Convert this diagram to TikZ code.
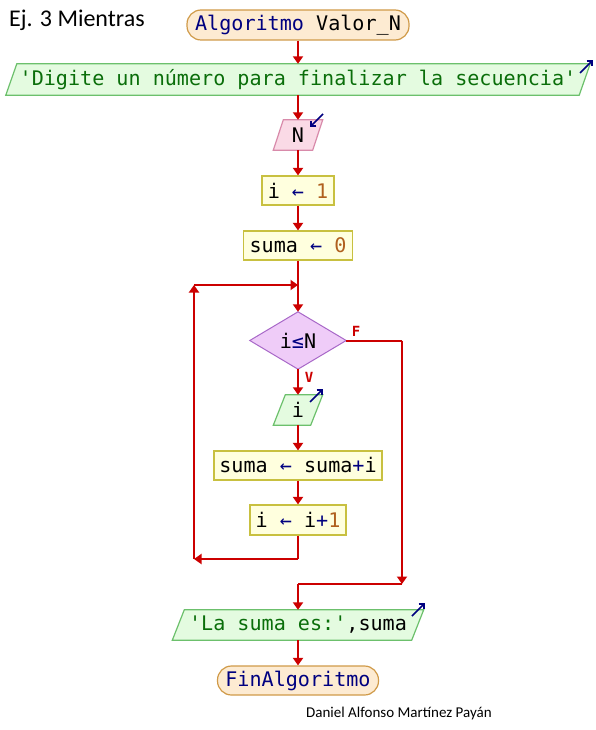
\documentclass[tikz,border=0pt]{standalone}
\usepackage{fontspec}
\setmainfont{Carlito}
\newfontfamily\monof{DejaVu Sans Mono}
\usetikzlibrary{arrows.meta,backgrounds}
\definecolor{redc}{HTML}{CC0000}
\definecolor{navyc}{HTML}{000080}
\definecolor{dgreen}{HTML}{0A6E0A}
\definecolor{brownc}{HTML}{B0601E}
\definecolor{termfill}{HTML}{FDEBD2}
\definecolor{termdraw}{HTML}{D09A48}
\definecolor{outfill}{HTML}{E4FBE0}
\definecolor{outdraw}{HTML}{6CC06C}
\definecolor{infill}{HTML}{FADAE6}
\definecolor{indraw}{HTML}{D88AAA}
\definecolor{procfill}{HTML}{FFFFDE}
\definecolor{procdraw}{HTML}{C8C040}
\definecolor{condfill}{HTML}{EFCCF8}
\definecolor{conddraw}{HTML}{A868C8}
\newcommand\qq{\textquotesingle}
\newcommand\drawpara[4]{%
  \begin{scope}[on background layer]
    \draw[fill=#3,draw=#4,line width=1.2pt] ([xshift=#2]#1.north west) -- (#1.north east)
      -- ([xshift=-#2]#1.south east) -- (#1.south west) -- cycle;
  \end{scope}}
\begin{document}
\begin{tikzpicture}[x=1pt,y=-1pt,
  shp/.style={rectangle, inner sep=0pt, font=\monof\fontsize{20.1}{21}\selectfont},
  term/.style={shp, fill=termfill, draw=termdraw, line width=1.2pt, rounded corners=14pt},
  proc/.style={shp, fill=procfill, draw=procdraw, line width=1.2pt},
  io/.style={shp},
  conn/.style={draw=redc, line width=2pt},
  arr/.style={conn, -{Triangle[width=10pt,length=7.5pt]}},
  icon/.style={draw=navyc, line width=1.6pt, -{Straight Barb[length=4pt,width=8pt]}},
  lbl/.style={text=redc, font=\monof\bfseries\fontsize{14}{14}\selectfont, inner sep=0pt}
]
\useasboundingbox (0,0) rectangle (596,730);

\node[anchor=base west, font=\fontsize{24}{24}\selectfont, inner sep=0pt] (title) at (9,27) {Ej. 3 Mientras};
\node[anchor=base west, font=\fontsize{15}{15}\selectfont, inner sep=0pt] (author) at (306,717) {Daniel Alfonso Martínez Payán};

\node[term, minimum width=222pt, minimum height=30pt] (start) at (298,25) {{\color{navyc}Algoritmo} Valor\_N};
\node[io, minimum width=584pt, minimum height=31pt] (out1) at (298,79.5) {\color{dgreen}\qq Digite un número para finalizar la secuencia\qq};
\drawpara{out1}{11pt}{outfill}{outdraw}
\node[io, minimum width=49pt, minimum height=30pt] (inN) at (298,135) {N};
\drawpara{inN}{10pt}{infill}{indraw}
\node[proc, minimum width=72pt, minimum height=29pt] (i1) at (298,190.5) {i {\color{navyc}←} {\color{brownc}1}};
\node[proc, minimum width=109pt, minimum height=29pt] (s0) at (298,245.5) {suma {\color{navyc}←} {\color{brownc}0}};
\node[shp, minimum width=96pt, minimum height=57pt] (cond) at (298,340.5) {i{\color{navyc}≤}N};
\begin{scope}[on background layer]
  \draw[fill=condfill, draw=conddraw, line width=1pt] (cond.north) -- (cond.east) -- (cond.south) -- (cond.west) -- cycle;
\end{scope}
\node[io, minimum width=49pt, minimum height=30pt] (inI) at (298,410) {i};
\drawpara{inI}{12pt}{outfill}{outdraw}
\node[proc, minimum width=168pt, minimum height=29pt] (si) at (298,465.5) {suma {\color{navyc}←} suma{\color{navyc}+}i};
\node[proc, minimum width=96pt, minimum height=30pt] (inc) at (298,520) {i {\color{navyc}←} i{\color{navyc}+}{\color{brownc}1}};
\node[io, minimum width=251pt, minimum height=30pt] (out2) at (298,625) {{\color{dgreen}\qq La suma es:\qq},suma};
\drawpara{out2}{12pt}{outfill}{outdraw}
\node[term, minimum width=161pt, minimum height=29pt] (fin) at (298,680.5) {\color{navyc}FinAlgoritmo};

\node[lbl] (lf) at (356,331) {F};
\node[lbl] (lv) at (309,377) {V};

\coordinate (j1) at (298,285);
\coordinate (lt) at (194,285);
\coordinate (lc) at (194,559);
\coordinate (lb) at (298,559);
\coordinate (rr) at (402,340.5);
\coordinate (rb) at (402,584);
\coordinate (j2) at (298,584);

\draw[arr] (start.south) -- (out1.north);
\draw[arr] (out1.south) -- (inN.north);
\draw[arr] (inN.south) -- (i1.north);
\draw[arr] (i1.south) -- (s0.north);
\draw[conn] (s0.south) -- (j1);
\draw[arr] (j1) -- (cond.north);
\draw[arr] (cond.south) -- (inI.north);
\draw[arr] (inI.south) -- (si.north);
\draw[arr] (si.south) -- (inc.north);
\draw[conn] (inc.south) -- (lb);
\draw[arr] (lb) -- (lc);
\draw[arr] (lc) -- (lt);
\draw[arr] (lt) -- (j1);
\draw[conn] (cond.east) -- (rr);
\draw[arr] (rr) -- (rb);
\draw[conn] (rb) -- (j2);
\draw[arr] (j2) -- (out2.north);
\draw[arr] (out2.south) -- (fin.north);

\draw[icon] (580,73) -- (593,60);
\draw[icon] (323,114) -- (310,127);
\draw[icon] (310,402) -- (323,389);
\draw[icon] (412,616) -- (425,603);
\end{tikzpicture}
\end{document}
